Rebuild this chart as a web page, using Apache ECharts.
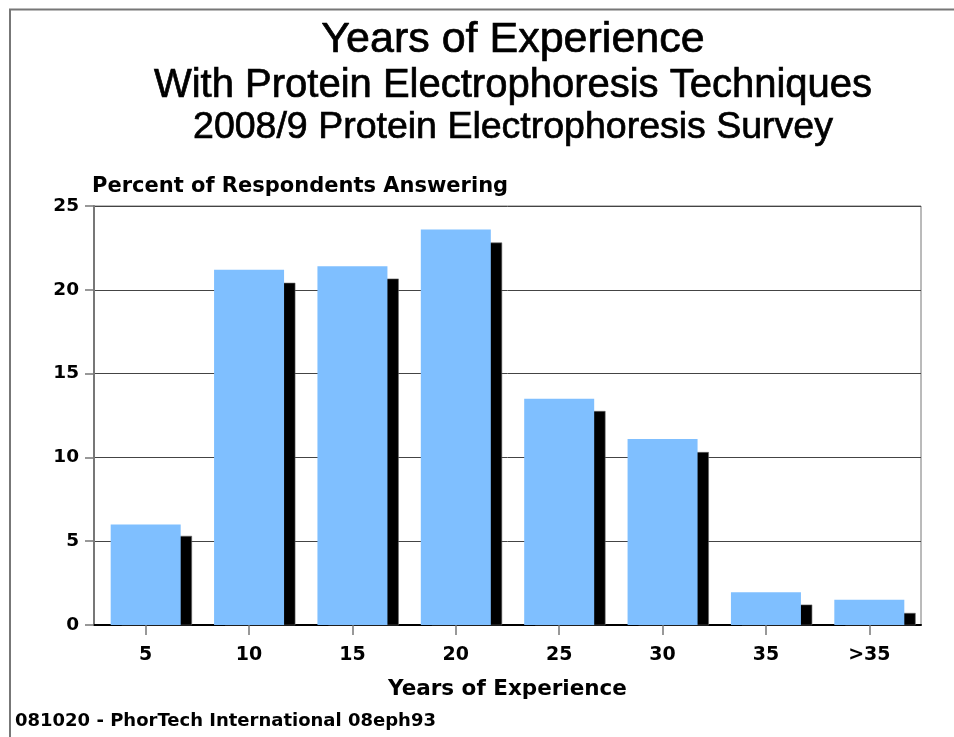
<!DOCTYPE html>
<html>
<head>
<meta charset="utf-8">
<script src="https://cdn.jsdelivr.net/npm/echarts@6/dist/echarts.min.js"></script>
<style>
html,body{margin:0;padding:0;background:#fff;}
#chart{width:954px;height:737px;}
</style>
</head>
<body>
<div id="chart"></div>
<script>
// ---- data ----
const categories = ['5', '10', '15', '20', '25', '30', '35', '>35'];
const percentValues = [6.0, 21.2, 21.4, 23.6, 13.5, 11.1, 1.95, 1.5];
const shadowValues = [5.3, 20.4, 20.65, 22.8, 12.75, 10.3, 1.2, 0.7];
const yTicks = [0, 5, 10, 15, 20, 25];
const titleLines = ['Years of Experience', 'With Protein Electrophoresis Techniques', '2008/9 Protein Electrophoresis Survey'];
const yAxisTitle = 'Percent of Respondents Answering';
const xAxisTitle = 'Years of Experience';
const footerText = '081020 - PhorTech International 08eph93';

const chart = echarts.init(document.getElementById('chart'), null, {renderer: 'canvas'});
const BOLD = '"DejaVu Sans", sans-serif';
const REG = '"Liberation Sans", Arial, sans-serif';

function titleStyle(size) {
  return {fontFamily: REG, fontWeight: 'normal', fontSize: size, color: '#000',
          textBorderColor: '#000', textBorderWidth: 0.7};
}

const option = {
  backgroundColor: '#ffffff',
  animation: false,
  title: [
    {text: titleLines[0], left: 508, top: 14, textAlign: 'center', textStyle: titleStyle(43)},
    {text: titleLines[1], left: 508, top: 61, textAlign: 'center', textStyle: titleStyle(40)},
    {text: titleLines[2], left: 508, top: 104, textAlign: 'center', textStyle: titleStyle(37.5)}
  ],
  graphic: [
    {type: 'polyline', silent: true, z: 100,
     shape: {points: [[10, 737], [10, 9.5], [954, 9.5]]},
     style: {stroke: '#777', lineWidth: 2, fill: null}},
    {type: 'text', left: 15, top: 712, silent: true,
     style: {text: footerText, font: 'bold 18px ' + BOLD, fill: '#000'}}
  ],
  grid: {left: 94, right: 33, top: 206, bottom: 112, show: true,
         borderColor: '#777', borderWidth: 1, backgroundColor: 'transparent'},
  xAxis: {
    type: 'category',
    data: categories,
    boundaryGap: true,
    name: xAxisTitle,
    nameLocation: 'middle',
    nameGap: 64,
    nameTextStyle: {fontFamily: BOLD, fontWeight: 'bold', fontSize: 21.5, color: '#000', verticalAlign: 'middle'},
    axisLine: {show: true, lineStyle: {color: '#000', width: 2}},
    axisTick: {show: true, alignWithLabel: true, length: 10, lineStyle: {color: '#777', width: 1.5}},
    axisLabel: {margin: 21, fontFamily: BOLD, fontWeight: 'bold', fontSize: 19, color: '#000'},
    splitLine: {show: false}
  },
  yAxis: {
    type: 'value',
    min: 0, max: 25, interval: 5,
    name: yAxisTitle,
    nameLocation: 'end',
    nameGap: 19,
    nameTextStyle: {fontFamily: BOLD, fontWeight: 'bold', fontSize: 21, color: '#000', align: 'left', verticalAlign: 'middle', padding: [0, 0, 0, -2]},
    axisLine: {show: true, lineStyle: {color: '#777', width: 2}},
    axisTick: {show: true, length: 9, lineStyle: {color: '#777', width: 1.5}},
    axisLabel: {margin: 15, fontFamily: BOLD, fontWeight: 'bold', fontSize: 18.5, color: '#000',
                formatter: function (v) { return yTicks.indexOf(v) >= 0 ? String(v) : ''; }},
    splitLine: {show: true, lineStyle: {color: '#444', width: 1}}
  },
  series: [
    {
      type: 'custom',
      name: 'shadow',
      z: 1,
      silent: true,
      data: categories.map(function (c, i) { return [i, shadowValues[i]]; }),
      renderItem: function (params, api) {
        const top = api.coord([api.value(0), api.value(1)]);
        const base = api.coord([api.value(0), 0]);
        return {
          type: 'rect',
          shape: {x: top[0] - 35 + 11, y: top[1], width: 70, height: base[1] - top[1]},
          style: {fill: '#000', stroke: '#666', lineWidth: 0.6}
        };
      }
    },
    {
      type: 'bar',
      name: 'percent',
      z: 3,
      barWidth: 70,
      data: percentValues,
      itemStyle: {color: '#7fbfff'}
    }
  ]
};
chart.setOption(option);
</script>
</body>
</html>
